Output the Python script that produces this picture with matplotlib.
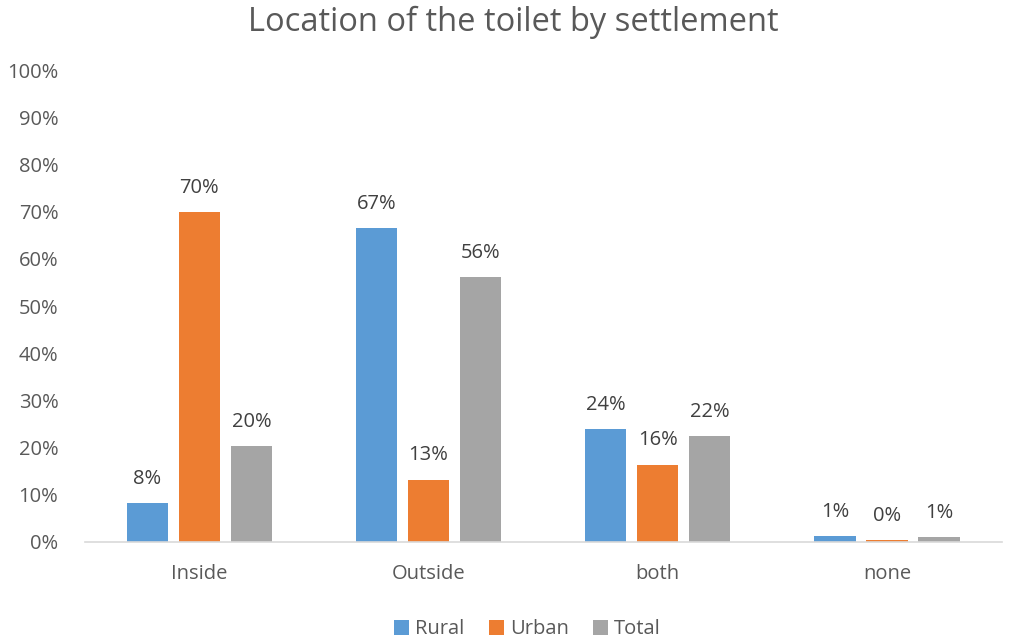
import numpy as np
import matplotlib.pyplot as plt

plt.rcParams['font.family'] = ['Open Sans', 'DejaVu Sans']

# data
categories = ["Inside", "Outside", "both", "none"]
series = ["Rural", "Urban", "Total"]
rural = [8.3, 66.6, 24.0, 1.3]
urban = [69.9, 13.2, 16.4, 0.4]
total = [20.4, 56.1, 22.4, 1.1]
colors = ["#5B9BD5", "#ED7D31", "#A5A5A5"]
txt = "#595959"

fig = plt.figure(figsize=(10.21, 6.39), dpi=100)
ax = fig.add_axes([0.083, 0.152, 0.898, 0.738])

x = np.arange(len(categories))
width = 0.18
pitch = 0.227
for i, (name, vals) in enumerate(zip(series, [rural, urban, total])):
    pos = x + (i - 1) * pitch
    ax.bar(pos, vals, width, color=colors[i], label=name)
    for px, v in zip(pos, vals):
        ax.text(px, v + 3.0, f"{round(v):.0f}%", ha="center", va="bottom",
                fontsize=14.5, color="#404040")

ax.set_xlim(-0.5, len(categories) - 0.5)
ax.set_ylim(0, 100)
ax.set_yticks(np.arange(0, 101, 10))
ax.set_yticklabels([f"{t}%" for t in range(0, 101, 10)])
ax.set_xticks(x)
ax.set_xticklabels(categories)
ax.tick_params(axis="both", length=0, labelsize=14.5, colors=txt)
ax.tick_params(axis="x", pad=16)
ax.tick_params(axis="y", pad=19)
for s in ["top", "right", "left"]:
    ax.spines[s].set_visible(False)
ax.spines["bottom"].set_color("#D9D9D9")
ax.spines["bottom"].set_linewidth(1.2)

fig.text(0.503, 0.965, "Location of the toilet by settlement", ha="center", va="center",
         fontsize=23.5, color=txt)
ax.legend(loc="lower center", bbox_to_anchor=(0.483, -0.245), ncol=3, frameon=False,
          fontsize=14.5, labelcolor=txt, handlelength=0.75, handleheight=0.75,
          handletextpad=0.3, columnspacing=1.2)

fig.savefig("out.png", dpi=100)
